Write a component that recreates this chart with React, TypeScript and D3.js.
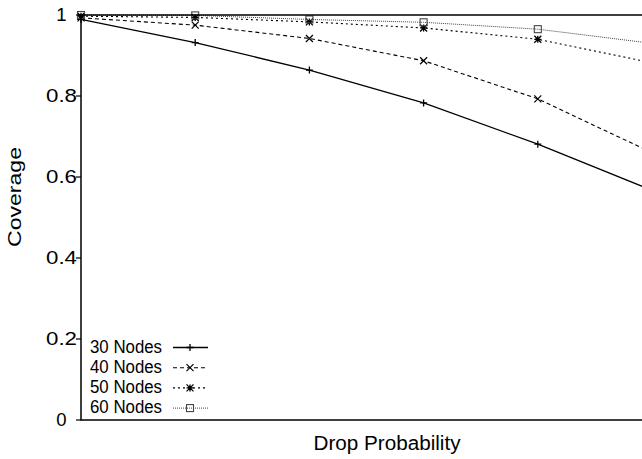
import React from 'react';
import * as d3 from 'd3';

// drop probability steps (no tick labels drawn on x)
const dropProbs = [0, 0.1, 0.2, 0.3, 0.4, 0.5];

const nodes30 = [0.989, 0.932, 0.864, 0.783, 0.681, 0.567];
const nodes40 = [0.993, 0.975, 0.942, 0.887, 0.793, 0.66];
const nodes50 = [0.997, 0.994, 0.983, 0.968, 0.94, 0.882];
const nodes60 = [1.0, 0.999, 0.989, 0.982, 0.965, 0.93];

const seriesNames = ['30 Nodes', '40 Nodes', '50 Nodes', '60 Nodes'];
const yTicks = [0, 0.2, 0.4, 0.6, 0.8, 1];

const W = 642;
const H = 459;
const FONT = '"Liberation Sans", Arial, Helvetica, sans-serif';

const styles = [
  { dash: null, width: 1.3, color: '#000', marker: 'plus' },
  { dash: '4,3', width: 1.1, color: '#000', marker: 'cross' },
  { dash: '2,3', width: 1.1, color: '#000', marker: 'star' },
  { dash: '1,1', width: 1, color: '#444', marker: 'square' },
];

function Marker({ type, x, y, color }: { type: string; x: number; y: number; color: string }) {
  const s = 3.5;
  if (type === 'plus') {
    return (
      <path d={`M${x - s},${y}H${x + s}M${x},${y - s}V${y + s}`} stroke={color} strokeWidth={1.3} />
    );
  }
  if (type === 'cross') {
    return (
      <path d={`M${x - s},${y - s}L${x + s},${y + s}M${x - s},${y + s}L${x + s},${y - s}`} stroke={color} strokeWidth={1.2} />
    );
  }
  if (type === 'star') {
    return (
      <path
        d={`M${x - s},${y - s}L${x + s},${y + s}M${x - s},${y + s}L${x + s},${y - s}M${x},${y - s}V${y + s}M${x - s},${y}H${x + s}`}
        stroke={color}
        strokeWidth={1.3}
      />
    );
  }
  return <rect x={x - s} y={y - s} width={2 * s} height={2 * s} fill="none" stroke={color} strokeWidth={1.1} />;
}

export default function App() {
  const left = 81, top = 15, bottom = 420, right = 652;

  const x = d3.scaleLinear().domain([0, 0.5]).range([left, right]);
  const y = d3.scaleLinear().domain([0, 1]).range([bottom, top]);

  const allSeries = [nodes30, nodes40, nodes50, nodes60];
  const line = d3
    .line<number>()
    .x((_, i) => x(dropProbs[i]))
    .y((d) => y(d));

  const legendBase = 352.5;
  const legendStep = 20.2;

  return (
    <svg width={W} height={H} style={{ position: 'absolute', left: 0, top: 0, background: '#fff' }} fontFamily={FONT}>
      <rect width={W} height={H} fill="#fff" />

      {/* series */}
      {allSeries.map((vals, si) => (
        <g key={si}>
          <path
            d={line(vals) || ''}
            fill="none"
            stroke={styles[si].color}
            strokeWidth={styles[si].width}
            strokeDasharray={styles[si].dash || undefined}
          />
          {vals.map((v, i) => (
            <Marker key={i} type={styles[si].marker} x={x(dropProbs[i])} y={y(v)} color={styles[si].color} />
          ))}
        </g>
      ))}

      {/* frame */}
      <rect x={left} y={top} width={right - left} height={bottom - top} fill="none" stroke="#000" strokeWidth={1.5} />

      {/* y ticks */}
      {yTicks.map((t) => (
        <g key={t}>
          <line x1={left - 5} x2={left} y1={y(t)} y2={y(t)} stroke="#000" strokeWidth={1.2} />
          <text
            x={61.5}
            y={y(t)}
            dy="0.35em"
            textAnchor="middle"
            fontSize={18.5}
            fill="#000"
            textLength={t === 0 || t === 1 ? undefined : 31}
            lengthAdjust="spacingAndGlyphs"
          >
            {t === 0 || t === 1 ? String(t) : t.toFixed(1)}
          </text>
        </g>
      ))}

      {/* axis titles */}
      <text
        transform={`translate(21,197) rotate(-90)`}
        textAnchor="middle"
        fontSize={18}
        textLength={100}
        lengthAdjust="spacingAndGlyphs"
      >
        Coverage
      </text>
      <text x={387} y={450} textAnchor="middle" fontSize={19.5} textLength={147} lengthAdjust="spacingAndGlyphs">
        Drop Probability
      </text>

      {/* legend */}
      {seriesNames.map((name, i) => {
        const by = legendBase + i * legendStep;
        const ly = by - 5;
        return (
          <g key={name}>
            <text x={90} y={by} fontSize={17.5} textLength={72} lengthAdjust="spacingAndGlyphs">
              {name}
            </text>
            <line
              x1={173}
              x2={208}
              y1={ly}
              y2={ly}
              stroke={styles[i].color}
              strokeWidth={styles[i].width}
              strokeDasharray={styles[i].dash || undefined}
            />
            <Marker type={styles[i].marker} x={190} y={ly} color={styles[i].color} />
          </g>
        );
      })}
    </svg>
  );
}
